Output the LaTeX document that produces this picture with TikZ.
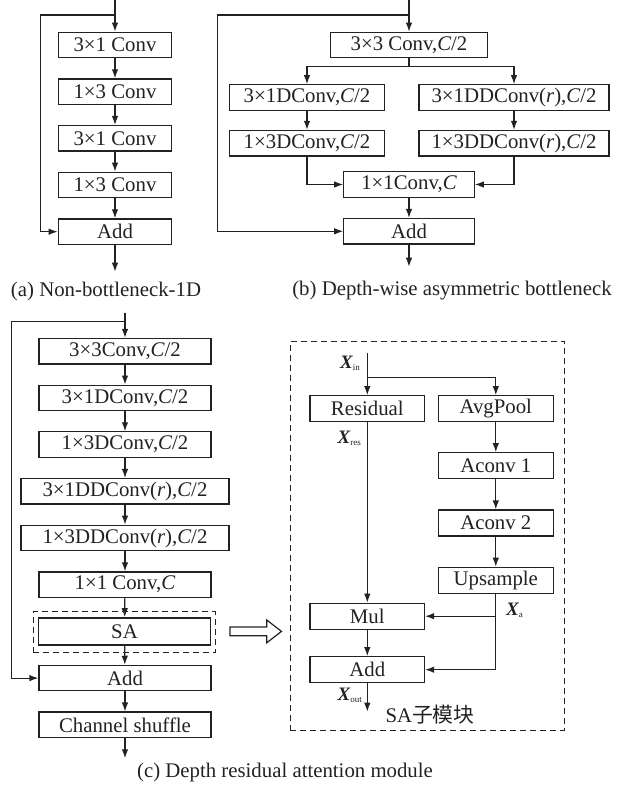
\documentclass[tikz,border=0pt]{standalone}
\usepackage{fontspec}
\setmainfont{Liberation Serif}
\newfontfamily\cjkfont{Noto Sans CJK SC}
\usetikzlibrary{arrows.meta}
\definecolor{ink}{HTML}{222222}
% bold italic X with an upright subscript
\newcommand\xvar[1]{{\fontsize{19}{19}\selectfont\bfseries\itshape X}\raisebox{-0.4ex}{\fontsize{9}{9}\selectfont #1}}
\newcommand\ci{{\itshape C}}
\newcommand\ri{{\itshape r}}
\tikzset{
  blk/.style={draw=ink, text=ink, line width=1.2pt, minimum height=25.5pt, inner sep=0pt,
    fill=white, font=\fontsize{20.8}{22}\selectfont},
  flow/.style={draw=ink, line width=1.2pt, -{Latex[length=9pt,width=6.5pt]}},
  wire/.style={draw=ink, line width=1.2pt},
  frame/.style={draw=ink, line width=1.1pt, dash pattern=on 6pt off 4pt, inner sep=0pt},
  captxt/.style={text=ink, inner sep=0pt, font=\fontsize{20.8}{22}\selectfont},
  lbl/.style={text=ink, inner sep=0pt},
}
\begin{document}
\begin{tikzpicture}[x=1pt, y=-1pt]
\useasboundingbox (0,0) rectangle (625,791);

% ---------- (a) Non-bottleneck-1D ----------
\node[blk, minimum width=113.5pt] (a1) at (115,45) {3×1 Conv};
\node[blk, minimum width=113.5pt] (a2) at (115,91.7) {1×3 Conv};
\node[blk, minimum width=113.5pt] (a3) at (115,138.3) {3×1 Conv};
\node[blk, minimum width=113.5pt] (a4) at (115,185) {1×3 Conv};
\node[blk, minimum width=113.5pt] (aadd) at (115,231.7) {Add};
\coordinate (ain) at (115,0);
\coordinate (asplit) at (115,15);
\coordinate (acorner) at (40.7,15);
\coordinate (aout) at (115,271.7);
\draw[flow] (ain) -- (a1);
\draw[flow] (a1) -- (a2);
\draw[flow] (a2) -- (a3);
\draw[flow] (a3) -- (a4);
\draw[flow] (a4) -- (aadd);
\draw[flow] (asplit) -- (acorner) |- (aadd);
\draw[flow] (aadd) -- (aout);
\node[captxt] (acap) at (106,291) {(a) Non-bottleneck-1D};

% ---------- (b) Depth-wise asymmetric bottleneck ----------
\node[blk, minimum width=157pt] (b0) at (409,45) {3×3 Conv,\ci/2};
\node[blk, minimum width=155pt] (bl1) at (307,97.5) {3×1DConv,\ci/2};
\node[blk, minimum width=190pt] (br1) at (514,97.5) {3×1DDConv(\ri),\ci/2};
\node[blk, minimum width=155pt] (bl2) at (307,143.2) {1×3DConv,\ci/2};
\node[blk, minimum width=190pt] (br2) at (514,143.2) {1×3DDConv(\ri),\ci/2};
\node[blk, minimum width=130.5pt] (bc) at (409,184.5) {1×1Conv,\ci};
\node[blk, minimum width=130.5pt] (badd) at (409,231.3) {Add};
\coordinate (bin) at (409,0);
\coordinate (bsplit) at (409,15);
\coordinate (bcorner) at (217.3,15);
\coordinate (bfork) at (409,66.7);
\coordinate (bout) at (409,266.7);
\draw[flow] (bin) -- (b0);
\draw[wire] (b0) -- (bfork);
\draw[flow] (bfork) -| (bl1);
\draw[flow] (bfork) -| (br1);
\draw[flow] (bl1) -- (bl2);
\draw[flow] (br1) -- (br2);
\draw[flow] (bl2) |- (bc);
\draw[flow] (br2) |- (bc);
\draw[flow] (bc) -- (badd);
\draw[flow] (bsplit) -- (bcorner) |- (badd);
\draw[flow] (badd) -- (bout);
\node[captxt] (bcap) at (452,291) {(b) Depth-wise asymmetric bottleneck};

% ---------- (c) Depth residual attention module ----------
\node[blk, minimum width=172pt] (c1) at (125,351.2) {3×3Conv,\ci/2};
\node[blk, minimum width=172pt] (c2) at (125,397.9) {3×1DConv,\ci/2};
\node[blk, minimum width=172pt] (c3) at (125,444.6) {1×3DConv,\ci/2};
\node[blk, minimum width=208pt] (c4) at (125,491.3) {3×1DDConv(\ri),\ci/2};
\node[blk, minimum width=208pt] (c5) at (125,538) {1×3DDConv(\ri),\ci/2};
\node[blk, minimum width=172pt] (c6) at (125,584.7) {1×1 Conv,\ci};
\node[frame, minimum width=182pt, minimum height=41pt] (csaframe) at (124.2,632.2) {};
\node[blk, minimum width=172pt, minimum height=26.7pt, line width=1.8pt] (csa) at (124.5,631.4) {SA};
\node[blk, minimum width=172pt] (cadd) at (125,678.1) {Add};
\node[blk, minimum width=172pt] (cshuf) at (125,724.8) {Channel shuffle};
\coordinate (cin) at (125,312.7);
\coordinate (csplit) at (125,321.7);
\coordinate (ccorner) at (11.7,321.7);
\coordinate (cout) at (125,758.3);
\draw[flow] (cin) -- (c1);
\draw[flow] (c1) -- (c2);
\draw[flow] (c2) -- (c3);
\draw[flow] (c3) -- (c4);
\draw[flow] (c4) -- (c5);
\draw[flow] (c5) -- (c6);
\draw[flow] (c6) -- (csa);
\draw[flow] (csa) -- (cadd);
\draw[flow] (cadd) -- (cshuf);
\draw[flow] (cshuf) -- (cout);
\draw[flow] (csplit) -- (ccorner) |- (cadd);
\node[captxt] (ccap) at (285,772) {(c) Depth residual attention module};

% hollow arrow pointing to the expanded SA block
\draw[draw=ink, line width=1.2pt, fill=white, line join=miter]
  (230,627) -- (266.7,627) -- (266.7,620) -- (281.5,631.4) -- (266.7,642.8)
  -- (266.7,635.8) -- (230,635.8) -- cycle;

% ---------- SA sub-module ----------
\node[frame, minimum width=274.3pt, minimum height=388.3pt] (saframe) at (427.2,535.9) {};
\node[blk, minimum width=114.5pt, minimum height=26pt] (res) at (367.3,408.7) {Residual};
\node[blk, minimum width=115pt, minimum height=26pt] (avg) at (495.8,408.7) {AvgPool};
\node[blk, minimum width=115pt, minimum height=26pt] (ac1) at (495.8,465.7) {Aconv 1};
\node[blk, minimum width=115pt, minimum height=26pt] (ac2) at (495.8,523) {Aconv 2};
\node[blk, minimum width=115pt, minimum height=26pt] (ups) at (495.8,580.3) {Upsample};
\node[blk, minimum width=114.5pt, minimum height=26pt] (mul) at (367.3,616.2) {Mul};
\node[blk, minimum width=114.5pt, minimum height=26pt] (sadd) at (367.3,669.7) {Add};
\coordinate (xin) at (367.3,353.3);
\coordinate (xsplit) at (367.3,377.7);
\coordinate (ajoin) at (495.8,616.2);
\coordinate (xout) at (367.3,711.7);
\draw[flow] (xin) -- (res);
\draw[flow] (xsplit) -| (avg);
\draw[flow] (res) -- (mul);
\draw[flow] (avg) -- (ac1);
\draw[flow] (ac1) -- (ac2);
\draw[flow] (ac2) -- (ups);
\draw[flow] (ups) |- (sadd);
\draw[flow] (ajoin) -- (mul);
\draw[flow] (mul) -- (sadd);
\draw[flow] (sadd) -- (xout);
\node[lbl, anchor=east] (lxin) at (360,363) {\xvar{in}};
\node[lbl, anchor=east] (lxres) at (361,438) {\xvar{res}};
\node[lbl, anchor=west] (lxa) at (506,610) {\xvar{a}};
\node[lbl, anchor=east] (lxout) at (362,695) {\xvar{out}};
\node[captxt] (satitle) at (430,715) {SA{\cjkfont 子模块}};
\end{tikzpicture}
\end{document}
